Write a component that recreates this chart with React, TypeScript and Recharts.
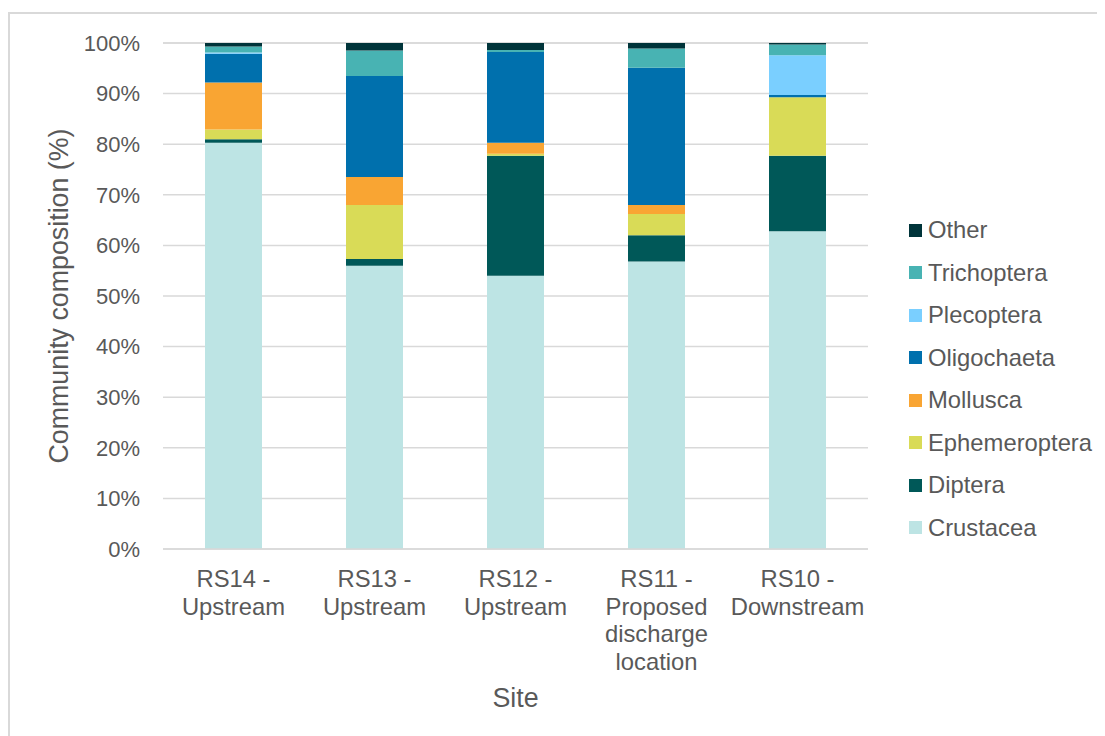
import React from "react";
import { BarChart, Bar, XAxis, YAxis, CartesianGrid, Legend } from "recharts";

const sites = [
  "RS14 -\nUpstream",
  "RS13 -\nUpstream",
  "RS12 -\nUpstream",
  "RS11 -\nProposed\ndischarge\nlocation",
  "RS10 -\nDownstream",
];

const crustacea = [80.3, 56.0, 54.0, 56.8, 62.8];
const diptera = [0.7, 1.3, 23.7, 5.2, 14.9];
const ephemeroptera = [1.9, 10.7, 0.4, 4.2, 11.6];
const mollusca = [9.3, 5.5, 2.2, 1.8, 0.0];
const oligochaeta = [5.7, 20.0, 17.9, 27.1, 0.4];
const plecoptera = [0.2, 0.0, 0.0, 0.0, 7.9];
const trichoptera = [1.2, 5.0, 0.4, 3.8, 2.1];
const other = [0.7, 1.5, 1.4, 1.1, 0.3];

const yTicks = [0, 10, 20, 30, 40, 50, 60, 70, 80, 90, 100];

const series = [
  { key: "Crustacea", values: crustacea, color: "#BDE4E4" },
  { key: "Diptera", values: diptera, color: "#005858" },
  { key: "Ephemeroptera", values: ephemeroptera, color: "#D9DB57" },
  { key: "Mollusca", values: mollusca, color: "#F9A533" },
  { key: "Oligochaeta", values: oligochaeta, color: "#0070AD" },
  { key: "Plecoptera", values: plecoptera, color: "#7ACFFF" },
  { key: "Trichoptera", values: trichoptera, color: "#48B3B3" },
  { key: "Other", values: other, color: "#00343A" },
];

const data = sites.map((site, i) => {
  const row: Record<string, any> = { site };
  series.forEach((s) => {
    row[s.key] = s.values[i];
  });
  return row;
});

const FONT = "'Liberation Sans', Arial, sans-serif";
const TEXT = "#595959";

const XTick = (props: any) => {
  const { x, y, payload } = props;
  const lines = String(payload.value).split("\n");
  return (
    <text x={x} y={y + 38} textAnchor="middle" fill={TEXT} fontSize={23.8} fontFamily={FONT}>
      {lines.map((l, i) => (
        <tspan key={i} x={x} dy={i === 0 ? 0 : 27.6}>
          {l}
        </tspan>
      ))}
    </text>
  );
};

const LegendContent = () => {
  const items = [...series].reverse();
  return (
    <div style={{ fontFamily: FONT, fontSize: 23.8, color: TEXT }}>
      {items.map((s) => (
        <div key={s.key} style={{ height: 42.5, display: "flex", alignItems: "center" }}>
          <span
            style={{
              display: "inline-block",
              width: 13,
              height: 13,
              background: s.color,
              marginRight: 6,
            }}
          />
          <span style={{ lineHeight: "24px" }}>{s.key}</span>
        </div>
      ))}
    </div>
  );
};

export default function App() {
  return (
    <div
      style={{
        marginTop: 4,
        width: 1097,
        height: 726,
        border: "2px solid #d9d9d9",
        borderRight: "none",
        borderBottom: "none",
        background: "#fff",
        position: "relative",
      }}
    >
      <BarChart
        width={1095}
        height={724}
        data={data}
        margin={{ top: 29, right: 237, bottom: 0, left: 0 }}
        style={{ fontFamily: FONT }}
      >
        <CartesianGrid vertical={false} stroke="#d9d9d9" strokeWidth={1.5} />
        <XAxis
          dataKey="site"
          height={189}
          interval={0}
          tick={<XTick />}
          tickLine={false}
          tickSize={0}
          tickMargin={0}
          axisLine={{ stroke: "#d9d9d9", strokeWidth: 1.5 }}
          label={(p: any) => {
            const vb = p.viewBox;
            return (
              <text
                x={vb.x + vb.width / 2}
                y={693}
                textAnchor="middle"
                fill={TEXT}
                fontSize={26.8}
                fontFamily={FONT}
              >
                Site
              </text>
            );
          }}
        />
        <YAxis
          width={153}
          domain={[0, 100]}
          ticks={yTicks}
          interval={0}
          tickFormatter={(v: number) => `${v}%`}
          axisLine={false}
          tickLine={false}
          tickSize={6}
          tickMargin={17}
          tick={{ fill: TEXT, fontSize: 22, fontFamily: FONT }}
          label={(p: any) => {
            const vb = p.viewBox;
            const cy = vb.y + vb.height / 2;
            return (
              <text
                x={49}
                y={cy}
                transform={`rotate(-90, 49, ${cy})`}
                textAnchor="middle"
                dominantBaseline="central"
                fill={TEXT}
                fontSize={26.8}
                fontFamily={FONT}
              >
                Community composition (%)
              </text>
            );
          }}
        />
        <Legend
          layout="vertical"
          align="center"
          verticalAlign="middle"
          content={<LegendContent />}
          wrapperStyle={{ position: "absolute", left: 899, top: 195, width: 200 }}
        />
        {series.map((s) => (
          <Bar
            key={s.key}
            dataKey={s.key}
            stackId="a"
            fill={s.color}
            barSize={57}
            isAnimationActive={false}
          />
        ))}
      </BarChart>
    </div>
  );
}
